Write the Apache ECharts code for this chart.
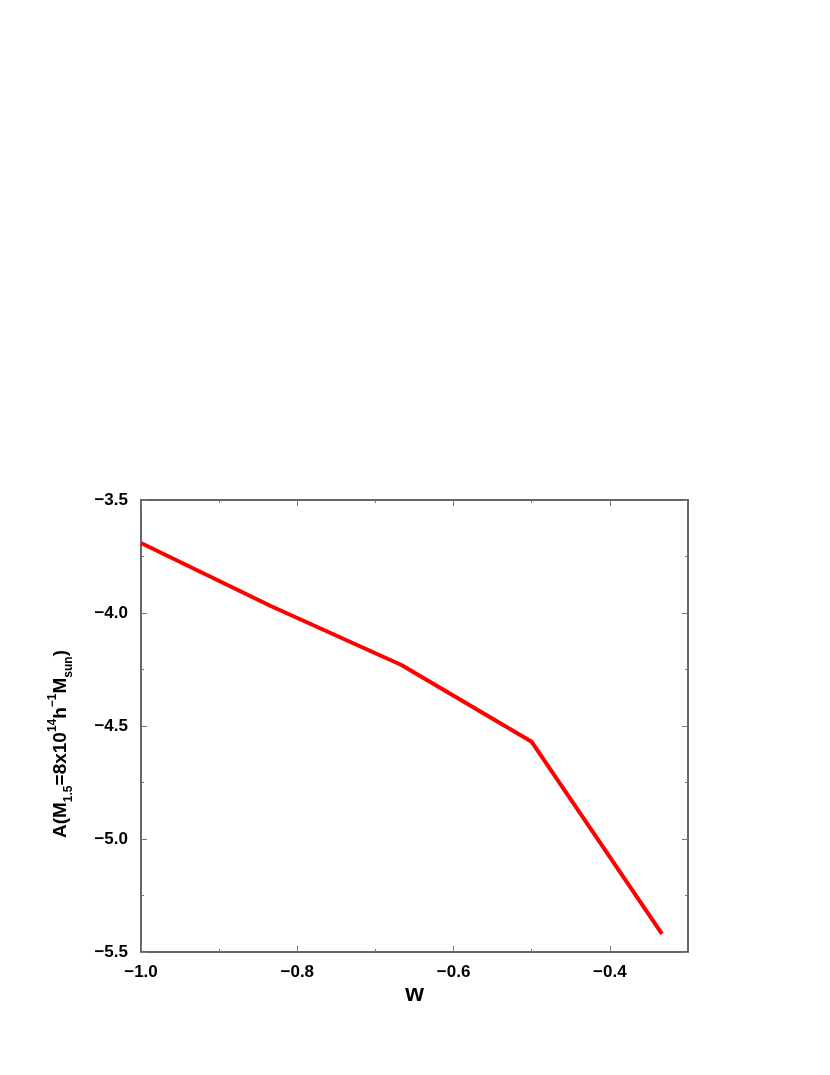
<!DOCTYPE html>
<html>
<head>
<meta charset="utf-8">
<script src="https://cdn.jsdelivr.net/npm/echarts@6/dist/echarts.min.js"></script>
<style>
  html, body { margin: 0; padding: 0; background: #fff; }
  #chart { width: 830px; height: 1075px; }
</style>
</head>
<body>
<div id="chart"></div>
<script>
// data
const wValues = [-1.0, -0.8333, -0.6667, -0.5, -0.3333];
const aValues = [-3.69, -3.97, -4.23, -4.57, -5.42];
const xMajorTicks = [-1.0, -0.8, -0.6, -0.4];
const xMinorTicks = [-0.9, -0.7, -0.5];
const yMajorTicks = [-5.5, -5.0, -4.5, -4.0, -3.5];
const yMinorTicks = [-5.25, -4.75, -4.25, -3.75];

const FONT = '"Liberation Sans", Arial, sans-serif';
const AXIS_COLOR = '#333';
const TICK_COLOR = '#777';

const fmt = (v) => v.toFixed(1).replace('-', '\u2212');
const near = (v, list) => list.some((t) => Math.abs(t - v) < 1e-6);

const chart = echarts.init(document.getElementById('chart'));

// one axis draws the line, major ticks and labels; a twin draws the short minor ticks
const makeAxis = (position, min, max, interval, ticks, len, withLine) => ({
  type: 'value',
  position,
  min,
  max,
  interval,
  axisLine: { show: withLine, onZero: false, lineStyle: { color: AXIS_COLOR, width: 1.5 } },
  axisTick: { show: true, inside: true, length: len, customValues: ticks, lineStyle: { color: TICK_COLOR, width: 1 } },
  axisLabel: { show: false },
  splitLine: { show: false },
});

const xBottom = makeAxis('bottom', -1.0, -0.3, 0.1, xMajorTicks, 6, true);
xBottom.name = 'w';
xBottom.nameLocation = 'middle';
xBottom.nameGap = 27;
xBottom.nameTextStyle = { fontFamily: FONT, fontWeight: 'bold', fontSize: 24, color: '#000' };
xBottom.axisLabel = {
  show: true,
  margin: 12,
  customValues: xMajorTicks,
  fontFamily: FONT, fontWeight: 'bold', fontSize: 17, color: '#000',
  formatter: (v) => (near(v, xMajorTicks) ? fmt(v) : ''),
};

const yLeft = makeAxis('left', -5.5, -3.5, 0.25, yMajorTicks, 6, true);
yLeft.name = '{n|A(M}{sub|1.5}{n|=8x10}{sup|14}{n|h}{sup|\u22121}{n|M}{sub|sun}{n|)}';
yLeft.nameLocation = 'middle';
yLeft.nameGap = 66;
yLeft.nameTextStyle = {
  padding: [0, 36, 0, 0],
  rich: {
    n: { fontFamily: FONT, fontWeight: 'bold', fontSize: 19, color: '#000', lineHeight: 28, verticalAlign: 'middle' },
    sub: { fontFamily: FONT, fontWeight: 'bold', fontSize: 12, color: '#000', lineHeight: 28, verticalAlign: 'bottom' },
    sup: { fontFamily: FONT, fontWeight: 'bold', fontSize: 12, color: '#000', lineHeight: 28, verticalAlign: 'top' },
  },
};
yLeft.axisLabel = {
  show: true,
  margin: 13,
  customValues: yMajorTicks,
  fontFamily: FONT, fontWeight: 'bold', fontSize: 17, color: '#000',
  formatter: (v) => (near(v, yMajorTicks) ? fmt(v) : ''),
};

const option = {
  backgroundColor: '#fff',
  animation: false,
  grid: { left: 141, right: 142, top: 500, bottom: 123 },
  xAxis: [
    xBottom,
    makeAxis('bottom', -1.0, -0.3, 0.1, xMinorTicks, 3, false),
    makeAxis('top', -1.0, -0.3, 0.1, xMajorTicks, 6, true),
    makeAxis('top', -1.0, -0.3, 0.1, xMinorTicks, 3, false),
  ],
  yAxis: [
    yLeft,
    makeAxis('left', -5.5, -3.5, 0.25, yMinorTicks, 3, false),
    makeAxis('right', -5.5, -3.5, 0.25, yMajorTicks, 6, true),
    makeAxis('right', -5.5, -3.5, 0.25, yMinorTicks, 3, false),
  ],
  series: [
    {
      type: 'line',
      xAxisIndex: 0,
      yAxisIndex: 0,
      data: wValues.map((w, i) => [w, aValues[i]]),
      showSymbol: false,
      lineStyle: { color: '#ff0000', width: 4 },
    },
  ],
};

chart.setOption(option);
</script>
</body>
</html>
